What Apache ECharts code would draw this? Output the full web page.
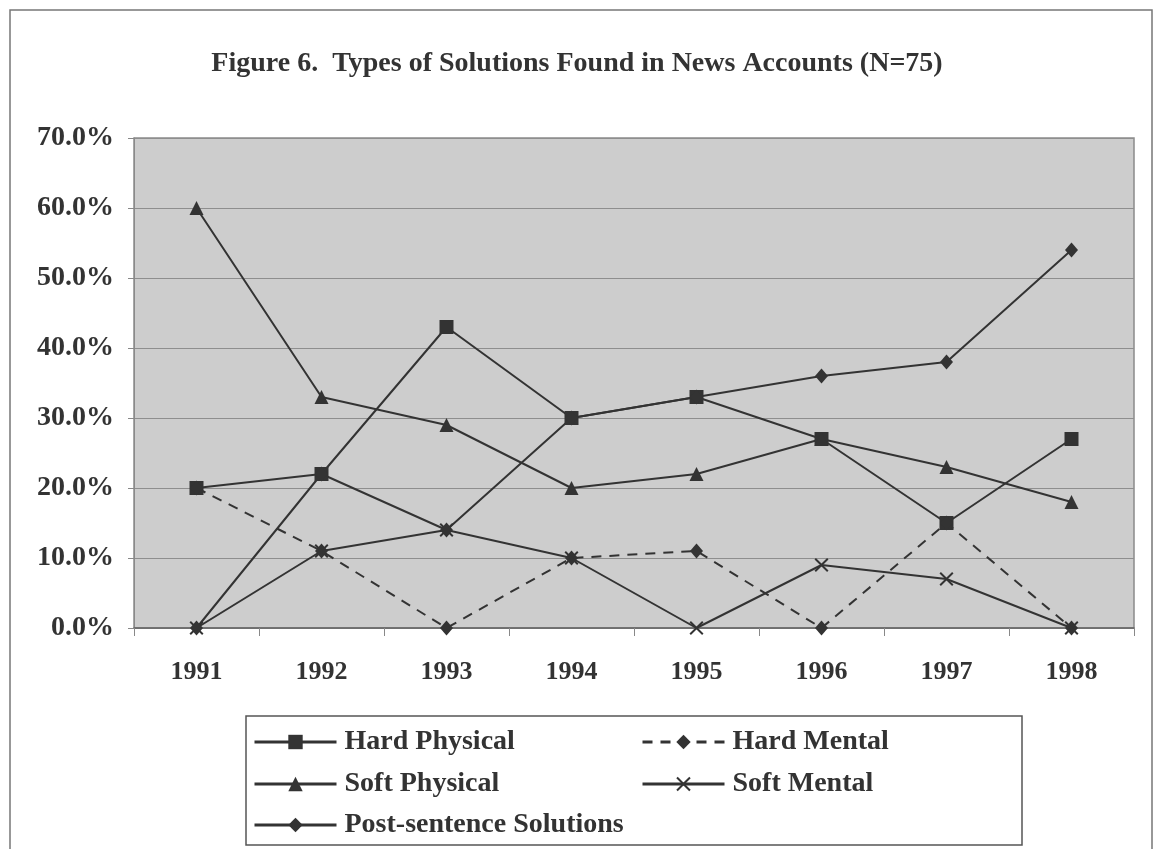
<!DOCTYPE html>
<html>
<head>
<meta charset="utf-8">
<title>Figure 6</title>
<script src="https://cdn.jsdelivr.net/npm/echarts@6/dist/echarts.min.js"></script>
<style>
  html, body { margin: 0; padding: 0; background: #fff; }
  #chart { width: 1154px; height: 849px; }
</style>
</head>
<body>
<div id="chart"></div>
<script>
// values, in percent
var years = ['1991', '1992', '1993', '1994', '1995', '1996', '1997', '1998'];
var hardPhysical = [20, 22, 43, 30, 33, 27, 15, 27];
var hardMental = [20, 11, 0, 10, 11, 0, 15, 0];
var softPhysical = [60, 33, 29, 20, 22, 27, 23, 18];
var softMental = [0, 11, 14, 10, 0, 9, 7, 0];
var postSentence = [0, 22, 14, 30, 33, 36, 38, 54];

var font = "'Liberation Serif', 'Times New Roman', serif";
var ink = '#333';
var crossIcon = 'path://M0,1L1,0L5,4L9,0L10,1L6,5L10,9L9,10L5,6L1,10L0,9L4,5Z';

var myChart = echarts.init(document.getElementById('chart'));

function lineSeries(name, data, symbol, size, dashed) {
    return {
        name: name,
        type: 'line',
        data: data,
        symbol: symbol,
        symbolSize: size,
        showAllSymbol: true,
        itemStyle: { color: ink },
        lineStyle: { color: ink, width: 2, type: dashed ? [10, 8] : 'solid' },
        emphasis: { disabled: true }
    };
}

// one legend per entry so the two columns line up like the original
function legendAt(name, left, top) {
    return {
        data: [name],
        left: left,
        top: top,
        padding: 0,
        itemWidth: 82,
        itemHeight: 18,
        lineStyle: { width: 3 },
        textStyle: { fontFamily: font, fontWeight: 'bold', fontSize: 28, color: ink, padding: [0, 0, 0, 3] }
    };
}

option = {
    backgroundColor: '#fff',
    animation: false,
    title: {
        text: 'Figure 6.  Types of Solutions Found in News Accounts (N=75)',
        left: 'center',
        top: 45,
        textStyle: { fontFamily: font, fontWeight: 'bold', fontSize: 28, color: ink }
    },
    graphic: [
        { type: 'rect', shape: { x: 10, y: 10, width: 1142, height: 860 }, style: { fill: 'none', stroke: '#777', lineWidth: 1.5 } },
        { type: 'rect', shape: { x: 246, y: 716, width: 776, height: 129 }, style: { fill: '#fff', stroke: '#555', lineWidth: 1.5 } }
    ],
    grid: {
        left: 134, right: 20, top: 138, bottom: 221,
        show: true,
        backgroundColor: '#cdcdcd',
        borderColor: '#8a8a8a',
        borderWidth: 1.5
    },
    legend: [
        legendAt('Hard Physical', 253, 728),
        legendAt('Hard Mental', 641, 728),
        legendAt('Soft Physical', 253, 770),
        legendAt('Soft Mental', 641, 770),
        legendAt('Post-sentence Solutions', 253, 811)
    ],
    xAxis: {
        type: 'category',
        data: years,
        boundaryGap: true,
        axisLine: { lineStyle: { color: '#666', width: 1.5 } },
        axisTick: { show: true, length: 8, lineStyle: { color: '#888' } },
        axisLabel: { margin: 31, fontFamily: font, fontWeight: 'bold', fontSize: 26, color: ink }
    },
    yAxis: {
        type: 'value',
        min: 0,
        max: 70,
        interval: 10,
        axisLine: { show: true, lineStyle: { color: '#8a8a8a' } },
        axisTick: { show: true, length: 6, lineStyle: { color: '#888' } },
        splitLine: { lineStyle: { color: '#8e8e8e', width: 1.2 } },
        axisLabel: {
            margin: 20,
            fontFamily: font, fontWeight: 'bold', fontSize: 28, color: ink,
            formatter: function (v) { return v.toFixed(1) + '%'; }
        }
    },
    series: [
        lineSeries('Hard Physical', hardPhysical, 'rect', 14, false),
        lineSeries('Hard Mental', hardMental, 'diamond', [13, 15], true),
        lineSeries('Soft Physical', softPhysical, 'triangle', 14, false),
        lineSeries('Soft Mental', softMental, crossIcon, 14, false),
        lineSeries('Post-sentence Solutions', postSentence, 'diamond', [13, 15], false)
    ]
};

myChart.setOption(option);
</script>
</body>
</html>
